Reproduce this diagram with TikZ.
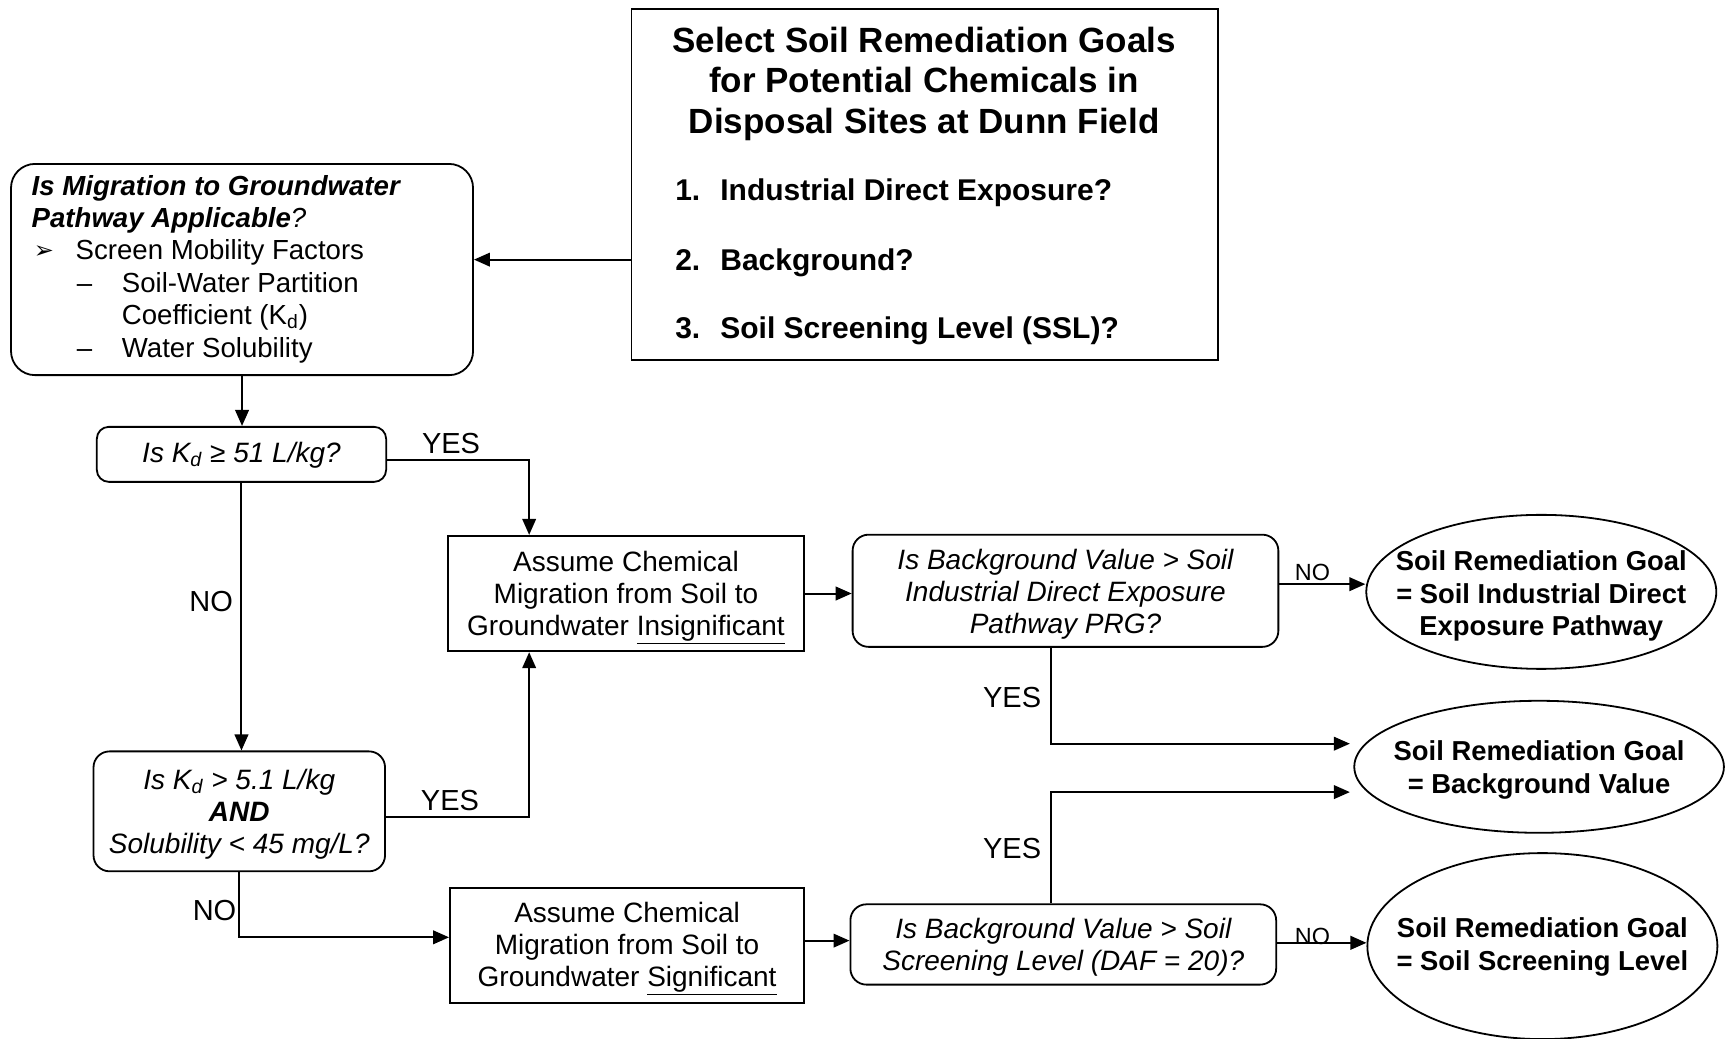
\documentclass[tikz,border=0pt]{standalone}
\usepackage{fontspec}
\setmainfont{Liberation Sans}
\newfontfamily\dejavu{DejaVu Sans}
\usetikzlibrary{arrows.meta,shapes.geometric}
\begin{document}
\begin{tikzpicture}[x=0.55pt,y=-0.55pt,
  line width=0.9pt,
  arr/.style={-{Triangle[length=8pt,width=6.8pt]}, line width=1pt},
  rbox/.style={draw, rounded corners=8pt, inner sep=0pt},
  sbox/.style={draw, inner sep=0pt},
  boxtxt/.style={inner sep=0pt, align=center, font=\fontsize{14}{16}\selectfont},
  itxt/.style={inner sep=0pt, align=center, font=\fontsize{14}{16}\selectfont\itshape},
  goalell/.style={draw, ellipse, inner sep=0pt},
  goaltxt/.style={inner sep=0pt, align=center, font=\fontsize{13.7}{16.3}\selectfont\bfseries},
  lbl/.style={font=\fontsize{14.5}{16}\selectfont, inner sep=0pt},
  smlbl/.style={font=\fontsize{11.7}{13}\selectfont, inner sep=0pt},
  txt/.style={inner sep=0pt, anchor=base west, font=\fontsize{13.8}{16}\selectfont},
  itemtxt/.style={inner sep=0pt, anchor=base west, font=\fontsize{15}{18}\selectfont\bfseries}]

\fill[white] (0,0) rectangle (1568,944);
\useasboundingbox (0,0) rectangle (1568,944);

% top box
\node[draw, minimum width=293.2pt, minimum height=175.5pt, inner sep=0pt] (goal) at (840.5,167.5) {};
\node[inner sep=0pt, align=center, font=\fontsize{17.5}{20.2}\selectfont\bfseries] (title) at (840,76)
  {Select Soil Remediation Goals\\for Potential Chemicals in\\Disposal Sites at Dunn Field};
\node[itemtxt] (n1) at (613,182) {1.};
\node[itemtxt] (i1) at (654,182) {Industrial Direct Exposure?};
\node[itemtxt] (n2) at (613,246) {2.};
\node[itemtxt] (i2) at (654,246) {Background?};
\node[itemtxt] (n3) at (613,308) {3.};
\node[itemtxt] (i3) at (654,308) {Soil Screening Level (SSL)?};

% migration box
\node[draw, rounded corners=12pt, minimum width=231pt, minimum height=105.6pt, inner sep=0pt] (mig) at (220,245) {};
\node[txt, font=\fontsize{13.8}{16}\selectfont\bfseries\itshape] (m1) at (28,178) {Is Migration to Groundwater};
\node[txt, font=\fontsize{13.8}{16}\selectfont\itshape] (m2) at (28,207) {\textbf{Pathway Applicable}?};
\node[txt, font=\fontsize{12}{12}\selectfont\dejavu] (mb) at (30,235) {➢};
\node[txt] (m3) at (68,236) {Screen Mobility Factors};
\node[txt] (md1) at (69,266) {–};
\node[txt] (m4) at (110,266) {Soil-Water Partition};
\node[txt] (m5) at (110,295) {Coefficient (K\textsubscript{d})};
\node[txt] (md2) at (69,325) {–};
\node[txt] (m6) at (110,325) {Water Solubility};

% decision / action boxes
\node[rbox, rounded corners=6pt, minimum width=144.65pt, minimum height=27.5pt] (k51) at (219.5,413) {};
\node[itxt] (k51t) at ([yshift=-0.5pt]k51.center) {Is K\textsubscript{d} ≥ 51 L/kg?};
\node[rbox, minimum width=145.75pt, minimum height=59.95pt] (k5) at (217.5,737.5) {};
\node[itxt] (k5t) at ([yshift=-1.5pt]k5.center) {Is K\textsubscript{d} > 5.1 L/kg\\\textbf{AND}\\Solubility < 45 mg/L?};

\node[sbox, minimum width=178.2pt, minimum height=57.75pt] (insig) at (569,539.5) {};
\node[boxtxt] (insigt) at ([yshift=-2.2pt]insig.center)
  {Assume Chemical\\Migration from Soil to\\Groundwater \underline{Insignificant}};
\node[sbox, minimum width=177.1pt, minimum height=57.75pt] (sig) at (570,859.5) {};
\node[boxtxt] (sigt) at ([yshift=-1.6pt]sig.center)
  {Assume Chemical\\Migration from Soil to\\Groundwater \underline{Significant}};

\node[rbox, minimum width=212.85pt, minimum height=56.1pt] (bg1) at (968.5,537) {};
\node[itxt] (bg1t) at ([yshift=-1.6pt]bg1.center)
  {Is Background Value > Soil\\Industrial Direct Exposure\\Pathway PRG?};
\node[rbox, minimum width=212.85pt, minimum height=40.15pt] (bg2) at (966.5,858.5) {};
\node[itxt] (bg2t) at ([yshift=-1.6pt]bg2.center)
  {Is Background Value > Soil\\Screening Level (DAF = 20)?};

% goal ellipses
\node[goalell, minimum width=175pt, minimum height=77pt] (e1) at (1401,538) {};
\node[goaltxt] (e1t) at ([yshift=-2.2pt]e1.center) {Soil Remediation Goal\\= Soil Industrial Direct\\Exposure Pathway};
\node[goalell, minimum width=184.8pt, minimum height=66pt] (e2) at (1399,697) {};
\node[goaltxt] (e2t) at ([yshift=-1.5pt]e2.center) {Soil Remediation Goal\\= Background Value};
\node[goalell, minimum width=175pt, minimum height=93pt] (e3) at (1402,860) {};
\node[goaltxt] (e3t) at ([yshift=-0.5pt]e3.center) {Soil Remediation Goal\\= Soil Screening Level};

\coordinate (e2a) at (1227,676);
\coordinate (e2b) at (1227,720);

% connectors
\draw[arr] (goal.west |- 0,236) -- (mig.east |- 0,236);
\draw[arr] (mig.south) -- (mig.south |- k51.north);
\draw[arr] (k51.east |- 0,418) -| (insig.north -| 481,0);
\draw[arr] (k51.south) -- (k51.south |- k5.north);
\draw[arr] (k5.east |- 0,743) -| (insig.south -| 481,0);
\draw[arr] (k5.south) |- (sig.west |- 0,852);
\draw[arr] (insig.east) -- (bg1.west |- insig.east);
\draw[arr] (sig.east |- 0,855) -- (bg2.west |- 0,855);
\draw[arr] (bg1.east |- 0,531) -- (e1.west |- 0,531);
\draw[arr] (bg1.south -| 955,0) |- (e2a);
\draw[arr] (bg2.north -| 955,0) |- (e2b);
\draw[arr] (bg2.east |- 0,857) -- (e3.west |- 0,857);

% labels
\node[lbl] (y1) at (410,403) {YES};
\node[lbl] (n1l) at (192,547) {NO};
\node[lbl] (y2) at (409,728) {YES};
\node[lbl] (n2l) at (195,828) {NO};
\node[smlbl] (n3l) at (1193,520) {NO};
\node[lbl] (y3) at (920,634) {YES};
\node[lbl] (y4) at (920,771) {YES};
\node[smlbl] (n4l) at (1193,851) {NO};
\end{tikzpicture}
\end{document}
